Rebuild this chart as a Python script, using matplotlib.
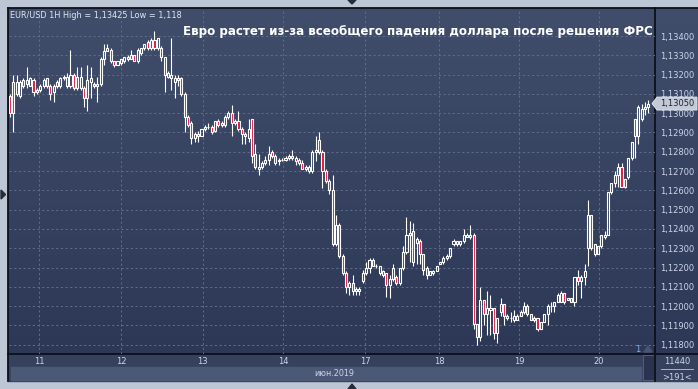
import numpy as np
import matplotlib
matplotlib.use("Agg")
import matplotlib.pyplot as plt
from matplotlib.patches import Rectangle, Polygon
from matplotlib.colors import LinearSegmentedColormap

# ---------------- data ----------------
opens = [
    1.1309, 1.1316, 1.1310, 1.1309, 1.1317, 1.1315, 1.1314, 1.1317, 1.1311, 1.1312,
    1.1314, 1.1318, 1.1314, 1.1311, 1.1314, 1.1314, 1.1319, 1.1314, 1.1314, 1.1320,
    1.1319, 1.1313, 1.1313, 1.1308, 1.1316, 1.1315, 1.1314, 1.1315, 1.1328, 1.1332,
    1.1333, 1.1327, 1.1325, 1.1326, 1.1327, 1.1328, 1.1328, 1.1330, 1.1327, 1.1331,
    1.1334, 1.1337, 1.1334, 1.1338, 1.1334, 1.1334, 1.1329, 1.1319,
    1.1318, 1.1316, 1.1317, 1.1318, 1.1310, 1.1298, 1.1295, 1.1287, 1.1288, 1.1288,
    1.1292, 1.1293, 1.1293, 1.1291, 1.1296, 1.1294, 1.1294, 1.1298, 1.1300, 1.1295,
    1.1296, 1.1292, 1.1289, 1.1287, 1.1297, 1.1279, 1.1271, 1.1272, 1.1274, 1.1276,
    1.1280, 1.1278, 1.1275, 1.1276, 1.1276, 1.1277, 1.1278, 1.1277, 1.1276, 1.1274,
    1.1271, 1.1272, 1.1270, 1.1280, 1.1286, 1.1280, 1.1270, 1.1265, 1.1260,
    1.1232, 1.1242, 1.1226, 1.1217, 1.1210, 1.1212, 1.1208, 1.1208, 1.1213, 1.1217,
    1.1220, 1.1224, 1.1221, 1.1217, 1.1218, 1.1217, 1.1211, 1.1214, 1.1215, 1.1212,
    1.1220, 1.1228, 1.1237, 1.1239, 1.1233, 1.1234, 1.1227, 1.1220, 1.1216, 1.1217,
    1.1218, 1.1222, 1.1223, 1.1225, 1.1226, 1.1232, 1.1234, 1.1232, 1.1234, 1.1236,
    1.1236,
    1.1237, 1.1191, 1.1184, 1.1203, 1.1196, 1.1198, 1.1199, 1.1186, 1.1197, 1.1201,
    1.1194, 1.1194, 1.1193, 1.1193, 1.1195, 1.1197, 1.1200, 1.1196, 1.1193, 1.1194,
    1.1188, 1.1192, 1.1196, 1.1200, 1.1200, 1.1202, 1.1202, 1.1207, 1.1203, 1.1204,
    1.1202, 1.1215, 1.1213, 1.1215,
    1.1230, 1.1247, 1.1227, 1.1227, 1.1231, 1.1236, 1.1237, 1.1259, 1.1264, 1.1268,
    1.1272, 1.1266, 1.1267, 1.1277, 1.1297, 1.1288, 1.1297, 1.1303, 1.1303,
]
highs = [
    1.1310, 1.1320, 1.1320, 1.1317, 1.1318, 1.1324, 1.1319, 1.1318, 1.1313, 1.1315,
    1.1318, 1.1318, 1.1315, 1.1315, 1.1317, 1.1319, 1.1320, 1.1321, 1.1333, 1.1321,
    1.1324, 1.1324, 1.1314, 1.1325, 1.1324, 1.1316, 1.1319, 1.1329, 1.1336, 1.1336,
    1.1334, 1.1327, 1.1327, 1.1328, 1.1329, 1.1330, 1.1333, 1.1330, 1.1334, 1.1334,
    1.1336, 1.1338, 1.1339, 1.13425, 1.1339, 1.1335, 1.1329, 1.1322,
    1.1339, 1.1320, 1.1320, 1.1319, 1.1311, 1.1299, 1.1296, 1.1290, 1.1291, 1.1292,
    1.1294, 1.1295, 1.1294, 1.1296, 1.1297, 1.1296, 1.1299, 1.1301, 1.1304, 1.1297,
    1.1301, 1.1293, 1.1290, 1.1297, 1.1297, 1.1284, 1.1279, 1.1275, 1.1278, 1.1283,
    1.1281, 1.1279, 1.1277, 1.1277, 1.1278, 1.1279, 1.1281, 1.1278, 1.1277, 1.1276,
    1.1273, 1.1273, 1.1281, 1.1288, 1.1290, 1.1281, 1.1271, 1.1266, 1.1268,
    1.1247, 1.1243, 1.1227, 1.1218, 1.1213, 1.1216, 1.1210, 1.1210, 1.1219, 1.1223,
    1.1225, 1.1225, 1.1222, 1.1221, 1.1219, 1.1217, 1.1216, 1.1222, 1.1216, 1.1220,
    1.1231, 1.1246, 1.1244, 1.1243, 1.1236, 1.1235, 1.1227, 1.1221, 1.1218, 1.1219,
    1.1221, 1.1223, 1.1226, 1.1227, 1.1230, 1.1235, 1.1234, 1.1234, 1.1240, 1.1238,
    1.1242,
    1.1238, 1.1191, 1.1210, 1.1203, 1.1208, 1.1206, 1.1199, 1.1194, 1.1204, 1.1201,
    1.1196, 1.1197, 1.1198, 1.1196, 1.1198, 1.1202, 1.1201, 1.1196, 1.1195, 1.1194,
    1.1192, 1.1196, 1.1201, 1.1202, 1.1202, 1.1207, 1.1208, 1.1207, 1.1204, 1.1204,
    1.1215, 1.1219, 1.1216, 1.1222,
    1.1255, 1.1247, 1.1232, 1.1231, 1.1237, 1.1239, 1.1259, 1.1264, 1.1270, 1.1274,
    1.1274, 1.1266, 1.1277, 1.1285, 1.1297, 1.1304, 1.1305, 1.1306, 1.1307,
]
lows = [
    1.1298, 1.1290, 1.1309, 1.1308, 1.1313, 1.1313, 1.1314, 1.1309, 1.1310, 1.1311,
    1.1313, 1.1313, 1.1307, 1.1306, 1.1313, 1.1313, 1.1317, 1.1313, 1.1313, 1.1312,
    1.1312, 1.1312, 1.1303, 1.1301, 1.1308, 1.1313, 1.1306, 1.1314, 1.1325, 1.1332,
    1.1326, 1.1324, 1.1325, 1.1325, 1.1326, 1.1327, 1.1328, 1.1327, 1.1326, 1.1330,
    1.1333, 1.1333, 1.1333, 1.1333, 1.1333, 1.1327, 1.1311, 1.1318,
    1.1312, 1.1308, 1.1314, 1.1309, 1.1290, 1.1293, 1.1284, 1.1285, 1.1285, 1.1288,
    1.1291, 1.1292, 1.1289, 1.1290, 1.1293, 1.1293, 1.1293, 1.1297, 1.1288, 1.1294,
    1.1291, 1.1284, 1.1284, 1.1285, 1.1274, 1.1271, 1.1268, 1.1271, 1.1273, 1.1273,
    1.1277, 1.1273, 1.1273, 1.1275, 1.1275, 1.1276, 1.1276, 1.1273, 1.1273, 1.1271,
    1.1270, 1.1269, 1.1269, 1.1275, 1.1279, 1.1261, 1.1264, 1.1258, 1.1231,
    1.1231, 1.1225, 1.1216, 1.1207, 1.1206, 1.1206, 1.1206, 1.1206, 1.1212, 1.1216,
    1.1217, 1.1221, 1.1220, 1.1216, 1.1215, 1.1205, 1.1204, 1.1213, 1.1211, 1.1211,
    1.1219, 1.1227, 1.1223, 1.1221, 1.1222, 1.1222, 1.1216, 1.1214, 1.1216, 1.1216,
    1.1218, 1.1222, 1.1222, 1.1224, 1.1225, 1.1231, 1.1231, 1.1231, 1.1233, 1.1236,
    1.1235,
    1.1188, 1.1180, 1.1182, 1.1190, 1.1185, 1.1185, 1.1183, 1.1181, 1.1195, 1.1190,
    1.1193, 1.1192, 1.1192, 1.1193, 1.1195, 1.1196, 1.1195, 1.1193, 1.1192, 1.1187,
    1.1188, 1.1192, 1.1190, 1.1197, 1.1197, 1.1202, 1.1202, 1.1201, 1.1203, 1.1202,
    1.1200, 1.1211, 1.1204, 1.1211,
    1.1221, 1.1229, 1.1226, 1.1227, 1.1230, 1.1235, 1.1237, 1.1258, 1.1262, 1.1262,
    1.1262, 1.1261, 1.1266, 1.1276, 1.1277, 1.1284, 1.1296, 1.1299, 1.1300,
]
closes = [
    1.1300, 1.1300, 1.1316, 1.1316, 1.1314, 1.1317, 1.1318, 1.1311, 1.1312, 1.1314,
    1.1317, 1.1314, 1.1310, 1.1314, 1.1316, 1.1318, 1.1318, 1.1319, 1.1320, 1.1313,
    1.1313, 1.1319, 1.1308, 1.1317, 1.1318, 1.1314, 1.1315, 1.1328, 1.1332, 1.1334,
    1.1327, 1.1325, 1.1327, 1.1328, 1.1329, 1.1329, 1.1330, 1.1327, 1.1333, 1.1334,
    1.1336, 1.1334, 1.1338, 1.1334, 1.1339, 1.1329, 1.1320, 1.1321,
    1.1320, 1.1318, 1.1318, 1.1310, 1.1298, 1.1294, 1.1287, 1.1289, 1.1289, 1.1292,
    1.1293, 1.1293, 1.1290, 1.1296, 1.1294, 1.1295, 1.1298, 1.1300, 1.1295, 1.1296,
    1.1292, 1.1289, 1.1288, 1.1292, 1.1278, 1.1272, 1.1272, 1.1274, 1.1276, 1.1279,
    1.1278, 1.1274, 1.1276, 1.1276, 1.1277, 1.1278, 1.1277, 1.1275, 1.1274, 1.1271,
    1.1272, 1.1270, 1.1280, 1.1281, 1.1280, 1.1270, 1.1265, 1.1260, 1.1232,
    1.1242, 1.1226, 1.1217, 1.1210, 1.1212, 1.1208, 1.1209, 1.1209, 1.1217, 1.1220,
    1.1224, 1.1221, 1.1221, 1.1221, 1.1216, 1.1211, 1.1214, 1.1220, 1.1212, 1.1220,
    1.1228, 1.1237, 1.1238, 1.1223, 1.1235, 1.1227, 1.1219, 1.1216, 1.1218, 1.1218,
    1.1221, 1.1223, 1.1225, 1.1226, 1.1230, 1.1234, 1.1232, 1.1234, 1.1237, 1.1237,
    1.1237,
    1.1191, 1.1184, 1.1203, 1.1196, 1.1199, 1.1199, 1.1186, 1.1194, 1.1201, 1.1195,
    1.1195, 1.1194, 1.1195, 1.1195, 1.1197, 1.1200, 1.1196, 1.1193, 1.1194, 1.1188,
    1.1192, 1.1196, 1.1200, 1.1200, 1.1202, 1.1206, 1.1207, 1.1202, 1.1204, 1.1202,
    1.1215, 1.1213, 1.1215, 1.1218,
    1.1247, 1.1230, 1.1232, 1.1231, 1.1237, 1.1237, 1.1259, 1.1264, 1.1268, 1.1272,
    1.1262, 1.1262, 1.1277, 1.1285, 1.1288, 1.1303, 1.1302, 1.1302, 1.1305,
]

day_labels = ["11", "12", "13", "14", "17", "18", "19", "20"]
day_pos = [8.6, 33.0, 57.4, 81.3, 105.7, 127.7, 151.5, 175.3]
price_ticks = [1.118, 1.119, 1.120, 1.121, 1.122, 1.123, 1.124, 1.125, 1.126,
               1.127, 1.128, 1.129, 1.130, 1.131, 1.132, 1.133, 1.134]
last_price = 1.1305
header_text = "EUR/USD 1H High = 1,13425 Low = 1,118"
title_text = "Евро растет из-за всеобщего падения доллара после решения ФРС"
month_text = "июн.2019"
volume_text = "11440"
bars_text = ">191<"

# ---------------- figure ----------------
W, H = 698, 389
fig = plt.figure(figsize=(W / 100, H / 100), dpi=100)
fig.patch.set_facecolor("#bcc6d5")

deco = fig.add_axes([0, 0, 1, 1], zorder=0)
deco.set_axis_off()
grad = np.linspace(0, 1, 256).reshape(-1, 1)
cmap = LinearSegmentedColormap.from_list("bg", ["#414e6b", "#2c3856"])
deco.imshow(grad, extent=(8, W, 354, 8), cmap=cmap, aspect="auto",
            interpolation="bilinear", zorder=0)
deco.add_patch(Rectangle((8, 354), W - 8, 27, color="#35415d", zorder=1))
deco.add_patch(Rectangle((11, 367), 630, 13, color="#4b5876", zorder=2))
# scroll block
deco.add_patch(Rectangle((643, 355), 11, 25, facecolor="#2a3450",
                         edgecolor="#56647f", lw=0.6, zorder=3))
# frame lines
line_kw = dict(color="#0d1018", lw=1.3, zorder=5)
deco.plot([8, 8], [8, 381], **line_kw)
deco.plot([8, W], [8, 8], **line_kw)
deco.plot([8, W], [354, 354], **line_kw)
deco.plot([655, 655], [8, 381], **line_kw)
deco.plot([661, 693], [369, 369], color="#aab6c8", lw=0.7, zorder=5)
# small markers on outer frame
deco.add_patch(Polygon([[348, 0], [356, 0], [352, 4]], color="#262c3a", zorder=6))
deco.add_patch(Polygon([[1, 190], [1, 199], [5.5, 194.5]], color="#262c3a", zorder=6))
deco.add_patch(Polygon([[348, 389], [356, 389], [352, 384]], color="#262c3a", zorder=6))
deco.add_patch(Polygon([[644, 352], [652, 352], [648, 346]], color="#4a5670", zorder=6))
deco.set_xlim(0, W)
deco.set_ylim(H, 0)

# ---------------- main chart ----------------
ax = fig.add_axes([9 / W, 1 - 354 / H, (655 - 9) / W, (354 - 9) / H], zorder=1)
ax.set_facecolor("none")
ax.set_xlim(-0.3, 191.96)
ax.set_ylim(1.117523, 1.135399)
for s in ax.spines.values():
    s.set_visible(False)

ax.set_yticks(price_ticks)
ax.set_yticklabels([f"{v:.5f}".replace(".", ",") for v in price_ticks])
ax.yaxis.tick_right()
ax.set_xticks(day_pos)
ax.set_xticklabels(day_labels)
ax.tick_params(axis="both", length=0, labelsize=6, colors="#cbd6ea")
ax.tick_params(axis="y", pad=4)
ax.tick_params(axis="x", pad=2.2)
ax.grid(True, color="#5e6d8d", lw=0.7, ls=(0, (2.2, 2.6)))
ax.set_axisbelow(True)

o = np.array(opens)
h = np.array(highs)
l = np.array(lows)
c = np.array(closes)
x = np.arange(len(o))
top = np.maximum(o, c)
bot = np.minimum(o, c)
up = c >= o
ax.vlines(x, top, h, color="white", lw=0.8, zorder=3)
ax.vlines(x, l, bot, color="white", lw=0.8, zorder=3)
ax.bar(x[up], (top - bot)[up], bottom=bot[up], width=0.62, facecolor="none",
       edgecolor="white", linewidth=0.8, zorder=4)
ax.bar(x[~up], (top - bot)[~up], bottom=bot[~up], width=0.62, facecolor="#e5133d",
       edgecolor="white", linewidth=0.8, zorder=4)


def px(xp, yp):
    return xp / W, 1 - yp / H


fig.text(*px(10, 15), header_text, fontsize=5.9, color="#e2e8f2",
         ha="left", va="center", zorder=10)
fig.text(*px(653, 32), title_text, fontsize=8.6, fontweight="bold", color="white",
         ha="right", va="center", zorder=10)
fig.text(*px(334, 374), month_text, fontsize=5.8, color="#cbd6ea",
         ha="center", va="center", zorder=10)
fig.text(*px(677, 361), volume_text, fontsize=6, color="#cbd6ea",
         ha="center", va="center", zorder=10)
fig.text(*px(677, 377), bars_text, fontsize=6, color="#cbd6ea",
         ha="center", va="center", zorder=10)
fig.text(*px(638, 349), "1", fontsize=6, color="#8cb0e6",
         ha="center", va="center", zorder=10)

# current price tag
y_tag = 36 + (1.134 - last_price) * 19300
deco.add_patch(Polygon([[652, y_tag], [657, y_tag - 6.5], [697, y_tag - 6.5],
                        [697, y_tag + 6.5], [657, y_tag + 6.5]],
                       facecolor="#c3cad6", edgecolor="#e3e8ee", lw=0.6, zorder=7))
fig.text(*px(677, y_tag), f"{last_price:.5f}".replace(".", ","), fontsize=6,
         color="#1b2232", ha="center", va="center", zorder=11)

fig.savefig("out.png", dpi=100, facecolor=fig.get_facecolor())
